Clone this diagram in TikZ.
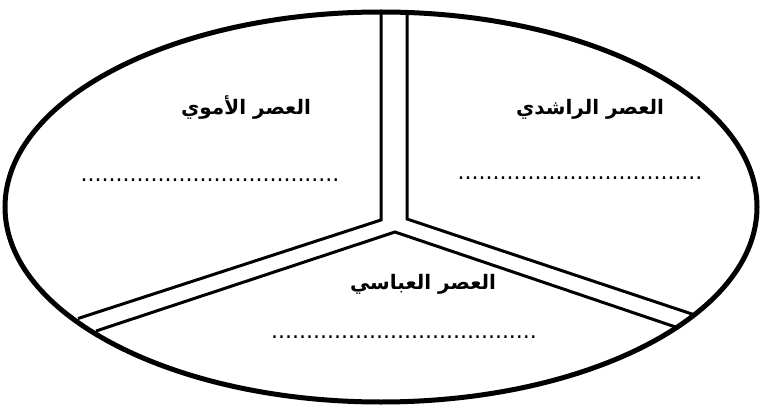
\documentclass[tikz,border=0pt]{standalone}
\usepackage{fontspec}
\newfontfamily\arabicfont[Script=Arabic]{DejaVu Sans}
\TeXXeTstate=1
\newcommand\dotrow[1]{\foreach \i in {1,...,#1}{.}}

\begin{document}
\begin{tikzpicture}[x=1pt, y=-1pt,
  rim/.style={line width=5pt},
  wall/.style={line width=3pt},
  era/.style={font=\arabicfont\bfseries\fontsize{20}{24}\selectfont, inner sep=0pt},
  blank/.style={font=\arabicfont\fontsize{22}{22}\selectfont, inner sep=0pt}]
\useasboundingbox (0,0) rectangle (760,406);
\draw[rim] (381,207) ellipse [x radius=376pt, y radius=195pt];
% the three walls
\coordinate (tl) at (381,14); \coordinate (tr) at (407,14);
\coordinate (bl) at (381,220); \coordinate (br) at (407,219);
\coordinate (apex) at (395,232);
\coordinate (el1) at (78,318.5); \coordinate (el2) at (96,331);
\coordinate (er1) at (694,314.7); \coordinate (er2) at (677,327.5);
\draw[wall] (tl) -- (bl) -- (el1);
\draw[wall] (tr) -- (br) -- (er1);
\draw[wall] (el2) -- (apex) -- (er2);
% labels
\node[era] (umayyad) at (246,107) {\beginR العصر الأموي\endR};
\node[era] (rashidun) at (590,109) {\beginR العصر الراشدي\endR};
\node[era] (abbasid) at (423,284) {\beginR العصر العباسي\endR};
\node[blank] (umayyad dots) at (210,180) {\dotrow{37}};
\node[blank] (rashidun dots) at (580,178) {\dotrow{35}};
\node[blank] (abbasid dots) at (404,337) {\dotrow{38}};
\end{tikzpicture}
\end{document}
